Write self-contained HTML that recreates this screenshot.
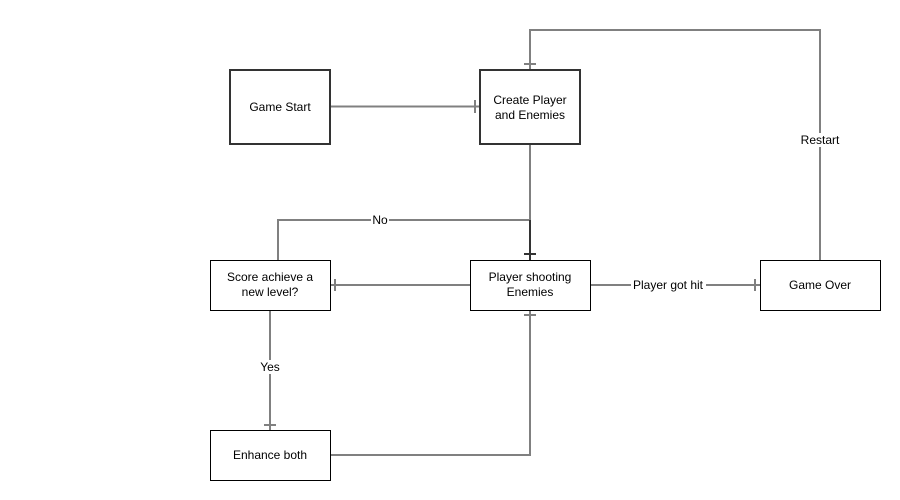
<!DOCTYPE html>
<html><head><style>
html,body{margin:0;padding:0;background:#fff;}
svg{display:block;}
text{font-family:"Liberation Sans",Arial,sans-serif;font-size:12px;fill:#000;}
</style></head><body>
<svg width="900" height="500" viewBox="0 0 900 500" xmlns="http://www.w3.org/2000/svg">
<g stroke="#808080" stroke-width="2" fill="none">
  <line x1="331" y1="106.5" x2="479" y2="106.5"/>
  <line x1="475" y1="100" x2="475" y2="113"/>
  <polyline points="820,260 820,30 530,30 530,69"/>
  <line x1="524" y1="64" x2="536" y2="64"/>
  <line x1="530" y1="144" x2="530" y2="220"/>
  <polyline points="530,220 278,220 278,260"/>
  <line x1="470" y1="285" x2="330" y2="285"/>
  <line x1="335" y1="279" x2="335" y2="291"/>
  <line x1="590" y1="285" x2="760" y2="285"/>
  <line x1="755" y1="279" x2="755" y2="291"/>
  <line x1="270" y1="310" x2="270" y2="430"/>
  <line x1="264" y1="425" x2="276" y2="425"/>
  <polyline points="330,455 530,455 530,310"/>
  <line x1="524" y1="315" x2="536" y2="315"/>
</g>
<g stroke="#333" stroke-width="2">
  <line x1="530" y1="220" x2="530" y2="260"/>
  <line x1="524" y1="254" x2="536" y2="254"/>
</g>
<g fill="#fff">
  <rect x="371" y="212" width="18" height="15"/>
  <rect x="799" y="133" width="42" height="14"/>
  <rect x="631" y="277" width="75" height="15"/>
  <rect x="259" y="360" width="22" height="14"/>
</g>
<g fill="#fff" stroke="#333" stroke-width="2">
  <rect x="230" y="70" width="100" height="74"/>
  <rect x="480" y="70" width="100" height="74"/>
</g>
<g fill="#fff" stroke="#000" stroke-width="1">
  <rect x="210.5" y="260.5" width="120" height="50"/>
  <rect x="470.5" y="260.5" width="120" height="50"/>
  <rect x="760.5" y="260.5" width="120" height="50"/>
  <rect x="210.5" y="430.5" width="120" height="50"/>
</g>
<g text-anchor="middle">
  <text x="280" y="111">Game Start</text>
  <text x="530" y="104">Create Player</text>
  <text x="530" y="119">and Enemies</text>
  <text x="270" y="281">Score achieve a</text>
  <text x="270" y="296">new level?</text>
  <text x="530" y="281">Player shooting</text>
  <text x="530" y="296">Enemies</text>
  <text x="820" y="289">Game Over</text>
  <text x="270" y="459">Enhance both</text>
  <text x="380" y="224">No</text>
  <text x="820" y="144">Restart</text>
  <text x="668" y="289">Player got hit</text>
  <text x="270" y="371">Yes</text>
</g>
</svg>
</body></html>
